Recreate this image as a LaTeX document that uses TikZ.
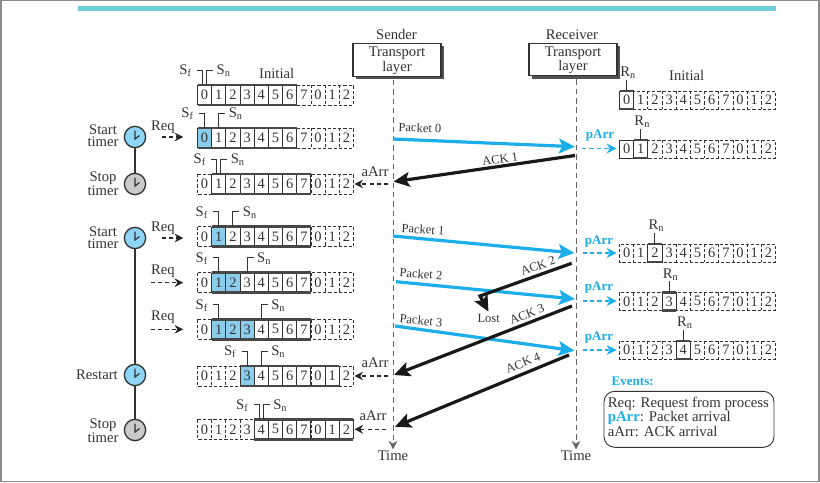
\documentclass[tikz,border=0pt]{standalone}
\usepackage{fontspec}
\setmainfont{Liberation Serif}
\usetikzlibrary{arrows.meta, shadows, calc, positioning}

\definecolor{barteal}{HTML}{70CDDA}
\definecolor{pktblue}{HTML}{1BAEEA}
\definecolor{winblue}{HTML}{8ACCEC}
\definecolor{clkblue}{HTML}{8ED6F8}
\definecolor{clkgray}{HTML}{CACACA}
\definecolor{inkgray}{HTML}{333333}
\definecolor{edgegray}{HTML}{8C8C8C}

\tikzset{
  txt/.style={text=inkgray, inner sep=0pt, font=\fontsize{11}{9}\selectfont, align=center},
  smalltxt/.style={text=inkgray, inner sep=0pt, font=\fontsize{9.4}{10}\selectfont},
  celltxt/.style={text=inkgray, inner sep=0pt, minimum width=10.6pt, minimum height=15pt, font=\fontsize{10.8}{11}\selectfont},
  bluetxt/.style={text=pktblue, inner sep=0pt, font=\fontsize{9.8}{10}\bfseries\selectfont},
  dashline/.style={draw=inkgray, line width=0.65pt, dash pattern=on 2.4pt off 1.5pt},
  thinline/.style={draw=inkgray, line width=0.7pt},
  barline/.style={draw=inkgray!90, line width=2.1pt},
  timeline/.style={draw=inkgray!75, line width=0.75pt, dash pattern=on 4.2pt off 2.8pt, -{Stealth[length=6.5pt,width=6.5pt]}},
  pktarrow/.style={draw=pktblue, line width=2.4pt, -{Stealth[length=12pt,width=11pt,inset=2.5pt]}},
  ackarrow/.style={draw=black!90, line width=2.4pt, -{Stealth[length=12pt,width=11pt,inset=2.5pt]}},
  evarrow/.style={draw=black!85, line width=0.9pt, dash pattern=on 3pt off 2.4pt, -{Stealth[length=6.5pt,width=6.5pt]}},
  parrarrow/.style={draw=pktblue, line width=1.2pt, dash pattern=on 3.2pt off 2.4pt, -{Stealth[length=7.5pt,width=7.5pt]}},
  tlbox/.style={draw=inkgray, fill=white, line width=0.8pt, minimum width=66pt, minimum height=24.5pt, inner sep=0pt,
    drop shadow={shadow xshift=2pt, shadow yshift=-2pt, fill=inkgray!85, opacity=1}},
  clk/.style={circle, draw=inkgray, line width=1pt, minimum size=16pt, inner sep=0pt},
}

% cell width
\def\cw{14.18}

% clock: name, x, y, fill
\newcommand{\clock}[4]{
  \node[clk, fill=#4] (#1) at (#2,#3) {};
  \draw[draw=inkgray, line width=0.9pt] ($(#1.center)+(0,-6.5)$) -- ($(#1.center)+(0,2)$) -- ($(#1.center)+(4.5,-1.5)$);
}

% sender window: name, top y, first solid cell, shade from, shade to, Sf, Sn
\newcommand{\sndwin}[7]{
  \pgfmathsetmacro{\lox}{197.5+#3*\cw}
  \pgfmathsetmacro{\hix}{\lox+7*\cw}
  \pgfmathsetmacro{\sfx}{197.5+(#6+.5)*\cw-(#6==#7)*2}
  \pgfmathsetmacro{\snx}{197.5+(#7+.5)*\cw+(#6==#7)*2}
  \fill[winblue] ({197.5+#4*\cw},#2) rectangle ({197.5+#5*\cw},#2+20);
  \draw[dashline] (197.5,#2) rectangle ({197.5+11*\cw},#2+20);
  \foreach \i in {1,...,10} {
    \draw[dashline] ({197.5+\i*\cw},#2) -- ({197.5+\i*\cw},#2+20);
  }
  \foreach \i in {0,...,7} {
    \draw[thinline] ({\lox+\i*\cw},#2) -- ({\lox+\i*\cw},#2+20);
  }
  \draw[barline] (\lox,#2) -- (\hix,#2);
  \draw[barline] (\lox,#2+20) -- (\hix,#2+20);
  \foreach \i/\d in {0/0,1/1,2/2,3/3,4/4,5/5,6/6,7/7,8/0,9/1,10/2} {
    \node[celltxt] (#1c\i) at ({197.5+(\i+.5)*\cw},#2+10) {\d};
  }
  \draw[thinline] (\sfx,#2) -- (\sfx,#2-15) -- (\sfx-5.5,#2-15);
  \draw[thinline] (\snx,#2) -- (\snx,#2-15) -- (\snx+6.5,#2-15);
  \node[txt] (#1sf) at (\sfx-17,#2-14) {S\textsubscript{f}};
  \node[txt] (#1sn) at (\snx+17,#2-14) {S\textsubscript{n}};
}

% receiver window: name, top y, Rn
\newcommand{\rcvwin}[3]{
  \pgfmathsetmacro{\rnx}{619.5+#3*\cw}
  \draw[dashline] (619.5,#2) rectangle ({619.5+11*\cw},#2+18);
  \foreach \i in {1,...,10} {
    \draw[dashline] ({619.5+\i*\cw},#2) -- ({619.5+\i*\cw},#2+18);
  }
  \draw[thinline] (\rnx,#2) rectangle (\rnx+\cw,#2+18);
  \draw[barline] (\rnx,#2) -- (\rnx+\cw,#2);
  \draw[barline] (\rnx,#2+18) -- (\rnx+\cw,#2+18);
  \foreach \i/\d in {0/0,1/1,2/2,3/3,4/4,5/5,6/6,7/7,8/0,9/1,10/2} {
    \node[celltxt] (#1c\i) at ({619.5+(\i+.5)*\cw},#2+9) {\d};
  }
  \draw[thinline] (\rnx+.5*\cw,#2) -- (\rnx+.5*\cw,#2-11);
  \node[txt] (#1rn) at (\rnx+.5*\cw+1.5,#2-18) {R\textsubscript{n}};
}

\begin{document}
\begin{tikzpicture}[x=0.75pt, y=-0.75pt]
\useasboundingbox (0,0) rectangle (820,482);
% frame
\fill[edgegray] (0,0) rectangle (820,1.2);
\fill[edgegray] (0,0) rectangle (1.5,482);
\fill[edgegray] (817.5,0) rectangle (820,482);
\fill[edgegray] (0,480.8) rectangle (820,482);
\fill[barteal] (78,5.5) rectangle (776,11);

% transport layers
\node[txt] (sender) at (396.5,34) {Sender};
\node[tlbox] (sndbox) at (397,60) {};
\node[txt] at ([yshift=-0.5pt]sndbox.center) (sndtl) {Transport\\layer};
\node[txt] (receiver) at (572,35) {Receiver};
\node[tlbox] (rcvbox) at (573,59.5) {};
\node[txt] at ([yshift=-0.5pt]rcvbox.center) (rcvtl) {Transport\\layer};
\node[txt] (sndtime) at (393,456) {Time};
\node[txt] (rcvtime) at (576,456) {Time};
\draw[timeline, shorten >=1pt] (sndtime |- sndbox.south) ++(0,3) -- (sndtime.north);
\draw[timeline, shorten >=1pt] (rcvtime |- rcvbox.south) ++(0,3) -- (rcvtime.north);

% sender windows
\sndwin{wa}{85}{0}{0}{0}{0}{0}
\sndwin{wb}{128}{0}{0}{1}{0}{1}
\sndwin{wc}{174}{1}{0}{0}{1}{1}
\sndwin{wd}{226.7}{1}{1}{2}{1}{2}
\sndwin{we}{272.7}{1}{1}{3}{1}{3}
\sndwin{wf}{319.3}{1}{1}{4}{1}{4}
\sndwin{wg}{366}{3}{3}{4}{3}{4}
\sndwin{wh}{419.3}{4}{0}{0}{4}{4}
\node[txt] (inits) at (276.7,73) {Initial};

% receiver windows
\rcvwin{ra}{91}{0}
\rcvwin{rb}{140}{1}
\rcvwin{rc}{244}{2}
\rcvwin{rd}{292.3}{3}
\rcvwin{re}{341}{4}
\draw[thinline] (619.5,140) rectangle ({619.5+\cw},158);
\draw[draw=inkgray, line width=1.4pt] (619.5,91) -- (619.5,109);
\node[txt] (initr) at (686.7,75) {Initial};

% timers
\clock{clka}{135}{137}{clkblue}
\clock{clkb}{135}{184}{clkgray}
\clock{clkc}{135}{238}{clkblue}
\clock{clkd}{135}{375}{clkblue}
\clock{clke}{135}{430}{clkgray}
\draw[draw=inkgray, line width=1pt] (clka) -- (clkb);
\draw[draw=inkgray, line width=1pt] (clkc) -- (clkd);
\draw[draw=inkgray, line width=1pt] (clkd) -- (clke);
\node[txt] (lbla) at (103,136) {Start\\timer};
\node[txt] (lblb) at (103,184) {Stop\\timer};
\node[txt] (lblc) at (103,238) {Start\\timer};
\node[txt, anchor=east] (lbld) at (118,375) {Restart};
\node[txt] (lble) at (103,431) {Stop\\timer};

% requests
\coordinate (reqe) at (150.7,282.7);
\coordinate (reqf) at (150.7,329.3);
\draw[evarrow, shorten <=11.5pt, shorten >=10.5pt] (clka) -- (clka -| wbc0.west);
\draw[evarrow, shorten <=11.5pt, shorten >=10.5pt] (clkc) -- (clkc -| wdc0.west);
\draw[evarrow, shorten >=10.5pt] (reqe) -- (wec0.west);
\draw[evarrow, shorten >=10.5pt] (reqf) -- (wfc0.west);
\node[txt] (reqa) at (163,127.7) {Req};
\node[txt] (reqb) at (163,228) {Req};
\node[txt] (reqc) at (163,271) {Req};
\node[txt] (reqd) at (163,317.7) {Req};

% packets
\coordinate (p0s) at (393,139);
\coordinate (p0r) at (575,146.7);
\coordinate (p1s) at (393,236);
\coordinate (p1r) at (574.5,253);
\coordinate (p2s) at (396,281.7);
\coordinate (p2r) at (575,299);
\coordinate (p3s) at (395,326);
\coordinate (p3r) at (574.5,350.7);
\draw[pktarrow] (p0s) -- (p0r);
\draw[pktarrow] (p1s) -- (p1r);
\draw[pktarrow] (p2s) -- (p2r);
\draw[pktarrow] (p3s) -- (p3r);
\node[smalltxt, rotate=-2] (lp0) at (420,128) {Packet 0};
\node[smalltxt, rotate=-4] (lp1) at (423,229.5) {Packet 1};
\node[smalltxt, rotate=-4] (lp2) at (421,274) {Packet 2};
\node[smalltxt, rotate=-6] (lp3) at (421,320.5) {Packet 3};

% acks
\coordinate (a1s) at (575,155.5);
\coordinate (a1r) at (393.5,181.7);
\coordinate (a2s) at (571.7,263.3);
\coordinate (a2b) at (480,296);
\coordinate (a2e) at (488.5,311.7);
\coordinate (a3s) at (572,306);
\coordinate (a3r) at (394,375);
\coordinate (a4s) at (569,355);
\coordinate (a4r) at (395,426.7);
\draw[ackarrow] (a1s) -- (a1r);
\draw[ackarrow] (a2s) -- (a2b) -- (a2e);
\draw[ackarrow] (a3s) -- (a3r);
\draw[ackarrow] (a4s) -- (a4r);
\node[smalltxt, rotate=8] (la1) at (500,159) {ACK 1};
\node[smalltxt, rotate=20] (la2) at (538,266) {ACK 2};
\node[smalltxt, rotate=21] (la3) at (527,314) {ACK 3};
\node[smalltxt, rotate=22] (la4) at (523,363) {ACK 4};
\node[smalltxt] (lost) at (488.7,318) {Lost};

% packet arrival
\coordinate (paa) at (582,148.5);
\coordinate (pab) at (582.5,253);
\coordinate (pac) at (582.5,301);
\coordinate (pad) at (582.5,350);
\draw[parrarrow, shorten >=2pt] (paa) -- (paa -| rbc0.west);
\draw[parrarrow, shorten >=2pt] (pab) -- (pab -| rcc0.west);
\draw[parrarrow, shorten >=2pt] (pac) -- (pac -| rdc0.west);
\draw[parrarrow, shorten >=2pt] (pad) -- (pad -| rec0.west);
\node[bluetxt] (tpa) at (600,136) {pArr};
\node[bluetxt] (tpb) at (599,241.7) {pArr};
\node[bluetxt] (tpc) at (599,288) {pArr};
\node[bluetxt] (tpd) at (599,338) {pArr};

% ack arrival
\coordinate (aaa) at (388,184);
\coordinate (aab) at (388,376);
\coordinate (aac) at (386,429.3);
\draw[evarrow, shorten >=0.5pt] (aaa) -- (aaa -| wcc10.east);
\draw[evarrow, shorten >=0.5pt] (aab) -- (aab -| wgc10.east);
\draw[evarrow, shorten >=0.5pt] (aac) -- (aac -| whc10.east);
\node[txt] (taa) at (375,172) {aArr};
\node[txt] (tab) at (375,363) {aArr};
\node[txt] (tac) at (373,416) {aArr};

% events
\node[bluetxt] (evt) at (632.7,381) {Events:};
\node[draw=inkgray, line width=0.7pt, rounded corners=8pt, minimum width=127.5pt, minimum height=42pt, inner sep=0pt] (evbox) at (689,419.3) {};
\node[txt, anchor=west, align=left, font=\fontsize{11.1}{10.9}\selectfont] (evtxt) at ([xshift=3pt,yshift=2pt]evbox.west)
  {Req: Request from process\\{\color{pktblue}\bfseries pArr}: Packet arrival\\aArr: ACK arrival};
\end{tikzpicture}
\end{document}
